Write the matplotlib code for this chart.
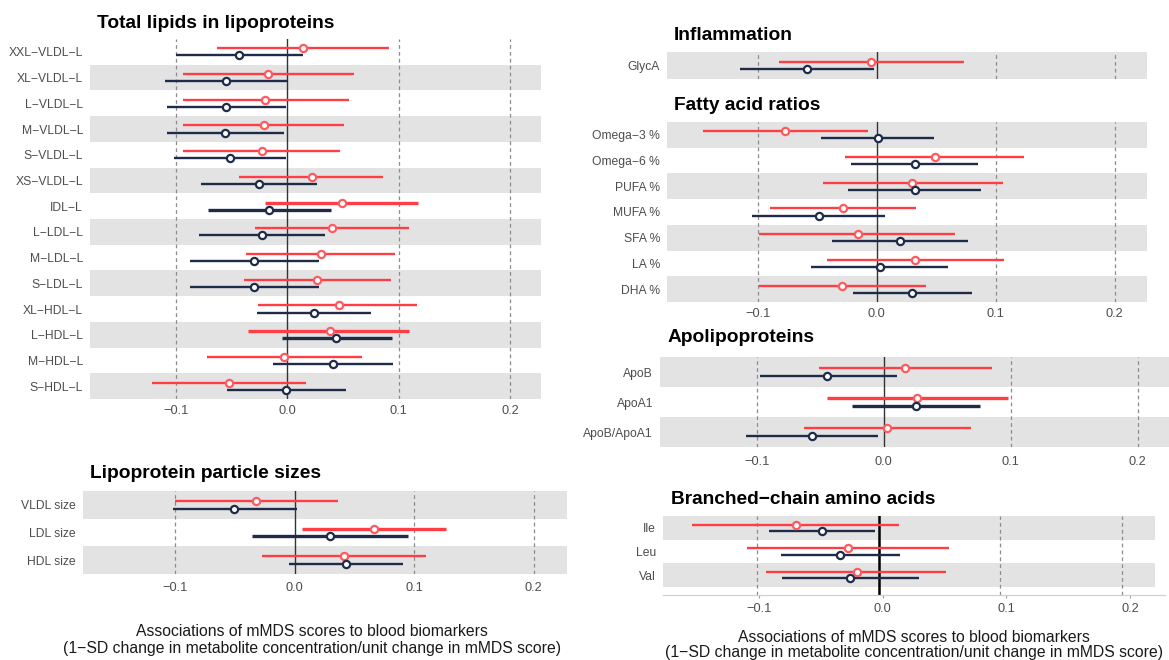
import matplotlib
matplotlib.use("Agg")
import matplotlib.pyplot as plt

plt.rcParams['font.family'] = ['Liberation Sans', 'DejaVu Sans']

# ---------------- data ----------------
tl_labels = ["XXL−VLDL−L", "XL−VLDL−L", "L−VLDL−L", "M−VLDL−L", "S−VLDL−L", "XS−VLDL−L",
             "IDL−L", "L−LDL−L", "M−LDL−L", "S−LDL−L", "XL−HDL−L", "L−HDL−L", "M−HDL−L", "S−HDL−L"]
tl_red_est = [0.014, -0.017, -0.020, -0.021, -0.023, 0.022, 0.049, 0.040, 0.030, 0.027, 0.046, 0.038, -0.003, -0.052]
tl_red_lo = [-0.063, -0.094, -0.094, -0.094, -0.094, -0.043, -0.020, -0.029, -0.037, -0.039, -0.026, -0.035, -0.072, -0.121]
tl_red_hi = [0.091, 0.060, 0.055, 0.051, 0.047, 0.086, 0.117, 0.109, 0.097, 0.093, 0.116, 0.109, 0.067, 0.017]
tl_navy_est = [-0.043, -0.055, -0.055, -0.056, -0.051, -0.025, -0.016, -0.023, -0.030, -0.030, 0.024, 0.044, 0.041, -0.001]
tl_navy_lo = [-0.100, -0.110, -0.108, -0.108, -0.102, -0.077, -0.071, -0.079, -0.087, -0.087, -0.027, -0.005, -0.013, -0.054]
tl_navy_hi = [0.014, 0.001, -0.001, -0.003, -0.001, 0.027, 0.039, 0.034, 0.028, 0.028, 0.075, 0.094, 0.095, 0.053]
tl_thick = [0, 0, 0, 0, 0, 0, 1, 0, 0, 0, 0, 1, 0, 0]

sz_labels = ["VLDL size", "LDL size", "HDL size"]
sz_red_est = [-0.032, 0.0665, 0.041]
sz_red_lo = [-0.100, 0.006, -0.027]
sz_red_hi = [0.036, 0.127, 0.110]
sz_navy_est = [-0.051, 0.0295, 0.043]
sz_navy_lo = [-0.102, -0.036, -0.005]
sz_navy_hi = [0.002, 0.095, 0.091]
sz_thick = [0, 1, 0]

inf_labels = ["GlycA"]
inf_red_est = [-0.005]
inf_red_lo = [-0.0825]
inf_red_hi = [0.0734]
inf_navy_est = [-0.0585]
inf_navy_lo = [-0.115]
inf_navy_hi = [-0.002]
inf_thick = [0]

fa_labels = ["Omega−3 %", "Omega−6 %", "PUFA %", "MUFA %", "SFA %", "LA %", "DHA %"]
fa_red_est = [-0.077, 0.049, 0.030, -0.028, -0.016, 0.032, -0.029]
fa_red_lo = [-0.146, -0.0265, -0.045, -0.0896, -0.099, -0.042, -0.099]
fa_red_hi = [-0.007, 0.124, 0.106, 0.033, 0.066, 0.107, 0.041]
fa_navy_est = [0.001, 0.032, 0.032, -0.049, 0.0195, 0.003, 0.030]
fa_navy_lo = [-0.047, -0.022, -0.024, -0.105, -0.038, -0.055, -0.020]
fa_navy_hi = [0.048, 0.085, 0.088, 0.007, 0.077, 0.060, 0.080]
fa_thick = [0, 0, 0, 0, 0, 0, 0]

apo_labels = ["ApoB", "ApoA1", "ApoB/ApoA1"]
apo_red_est = [0.017, 0.026, 0.0025]
apo_red_lo = [-0.051, -0.045, -0.063]
apo_red_hi = [0.085, 0.098, 0.069]
apo_navy_est = [-0.0445, 0.0255, -0.057]
apo_navy_lo = [-0.098, -0.0255, -0.109]
apo_navy_hi = [0.010, 0.0756, -0.0045]
apo_thick = [0, 1, 0]

bc_labels = ["Ile", "Leu", "Val"]
bc_red_est = [-0.070, -0.028, -0.021]
bc_red_lo = [-0.154, -0.110, -0.094]
bc_red_hi = [0.0135, 0.054, 0.0515]
bc_navy_est = [-0.049, -0.0345, -0.026]
bc_navy_lo = [-0.092, -0.0825, -0.081]
bc_navy_hi = [-0.006, 0.014, 0.029]
bc_thick = [0, 0, 0]

x_ticks = [-0.1, 0.0, 0.1, 0.2]
x_ticklabels = ["−0.1", "0.0", "0.1", "0.2"]

# ---------------- style ----------------
RED = "#FF3D44"
NAVY = "#1E2B4B"
BAND = "#E3E3E3"
W, H = 1169, 660
DPI = 100

fig = plt.figure(figsize=(W / DPI, H / DPI), dpi=DPI)


def add_ax(left, top, right, bottom):
    return fig.add_axes([left / W, 1 - bottom / H, (right - left) / W, (bottom - top) / H])


def panel(rect, xlim, labels, r_est, r_lo, r_hi, n_est, n_lo, n_hi, thick,
          show_x=True, xpad=5, ybottom=None, band_right=None, vlines=(-0.1, 0.1, 0.2),
          zero=0.0, zero_lw=1.0, zero_color="#333333", axis_line=False):
    ax = add_ax(*rect)
    n = len(labels)
    ax.set_xlim(*xlim)
    ax.set_ylim(ybottom if ybottom is not None else n - 0.5, -0.5)
    for s in ax.spines.values():
        s.set_visible(False)
    xr = 1.0 if band_right is None else (band_right - xlim[0]) / (xlim[1] - xlim[0])
    for i in range(n):
        if (n - 1 - i) % 2 == 0:
            ax.axhspan(i - 0.5, i + 0.5, xmin=0, xmax=xr, color=BAND, lw=0, zorder=0)
    for v in vlines:
        ax.axvline(v, color="#8C8C8C", lw=0.9, ls=(0, (3, 2.5)), zorder=1)
    ax.axvline(zero, color=zero_color, lw=zero_lw, zorder=2)
    off = 0.14
    for i in range(n):
        lw = 2.4 if thick[i] else 1.7
        ax.plot([r_lo[i], r_hi[i]], [i - off, i - off], color=RED, lw=lw, solid_capstyle="butt", zorder=3)
        ax.plot([r_est[i]], [i - off], marker="o", ms=5.2, mfc="white", mec="#FF5A60", mew=1.6, zorder=5)
        ax.plot([n_lo[i], n_hi[i]], [i + off, i + off], color=NAVY, lw=lw, solid_capstyle="butt", zorder=3)
        ax.plot([n_est[i]], [i + off], marker="o", ms=5.2, mfc="white", mec=NAVY, mew=1.6, zorder=5)
    ax.set_yticks(range(n))
    ax.set_yticklabels(labels)
    ax.tick_params(axis="y", length=0, pad=5, labelsize=8.7, labelcolor="#4D4D4D")
    if show_x:
        ax.set_xticks(x_ticks)
        ax.set_xticklabels(x_ticklabels)
        if axis_line:
            ax.spines["bottom"].set_visible(True)
            ax.spines["bottom"].set_color("#D0D0D0")
            ax.spines["bottom"].set_linewidth(0.9)
            ax.tick_params(axis="x", length=2.5, width=0.8, color="#A0A0A0", pad=xpad,
                           labelsize=9.2, labelcolor="#4D4D4D")
        else:
            ax.tick_params(axis="x", length=0, pad=xpad, labelsize=9.2, labelcolor="#4D4D4D")
    else:
        ax.set_xticks([])
    return ax


# Total lipids
panel((90, 39, 541, 399), (-0.177, 0.2276), tl_labels, tl_red_est, tl_red_lo, tl_red_hi,
      tl_navy_est, tl_navy_lo, tl_navy_hi, tl_thick, xpad=4)
# Particle sizes
panel((83, 491, 567, 574), (-0.177, 0.228), sz_labels, sz_red_est, sz_red_lo, sz_red_hi,
      sz_navy_est, sz_navy_lo, sz_navy_hi, sz_thick, xpad=5.5)
# Inflammation
panel((667, 52, 1147, 79), (-0.1764, 0.2272), inf_labels, inf_red_est, inf_red_lo, inf_red_hi,
      inf_navy_est, inf_navy_lo, inf_navy_hi, inf_thick, show_x=False)
# Fatty acid ratios
panel((667, 122, 1147, 302), (-0.1764, 0.2272), fa_labels, fa_red_est, fa_red_lo, fa_red_hi,
      fa_navy_est, fa_navy_lo, fa_navy_hi, fa_thick, xpad=4)
# Apolipoproteins
panel((660, 357, 1169, 447), (-0.1765, 0.2248), apo_labels, apo_red_est, apo_red_lo, apo_red_hi,
      apo_navy_est, apo_navy_lo, apo_navy_hi, apo_thick, xpad=6.3)
# Branched-chain amino acids
panel((663, 516, 1165, 595), (-0.1776, 0.2283), bc_labels, bc_red_est, bc_red_lo, bc_red_hi,
      bc_navy_est, bc_navy_lo, bc_navy_hi, bc_thick, xpad=3.5, ybottom=2.84, band_right=0.2202,
      vlines=(-0.1015, 0.0952, 0.1932), zero=-0.0028, zero_lw=1.8, zero_color="#000000",
      axis_line=True)

# titles
titles = [("Total lipids in lipoproteins", 97, 24), ("Lipoprotein particle sizes", 90, 473),
          ("Inflammation", 674, 35), ("Fatty acid ratios", 674, 105),
          ("Apolipoproteins", 668, 338), ("Branched−chain amino acids", 671, 499)]
for t, x, y in titles:
    fig.text(x / W, 1 - y / H, t, ha="left", va="center", fontsize=13.8, fontweight="bold", color="#000000")

xl1 = "Associations of mMDS scores to blood biomarkers"
xl2 = "(1−SD change in metabolite concentration/unit change in mMDS score)"
for cx, y1, y2 in [(312, 632, 648), (914, 637, 653)]:
    fig.text(cx / W, 1 - y1 / H, xl1, ha="center", va="center", fontsize=11.3, color="#1A1A1A")
    fig.text(cx / W, 1 - y2 / H, xl2, ha="center", va="center", fontsize=11.3, color="#1A1A1A")

fig.savefig("out.png", dpi=DPI)
